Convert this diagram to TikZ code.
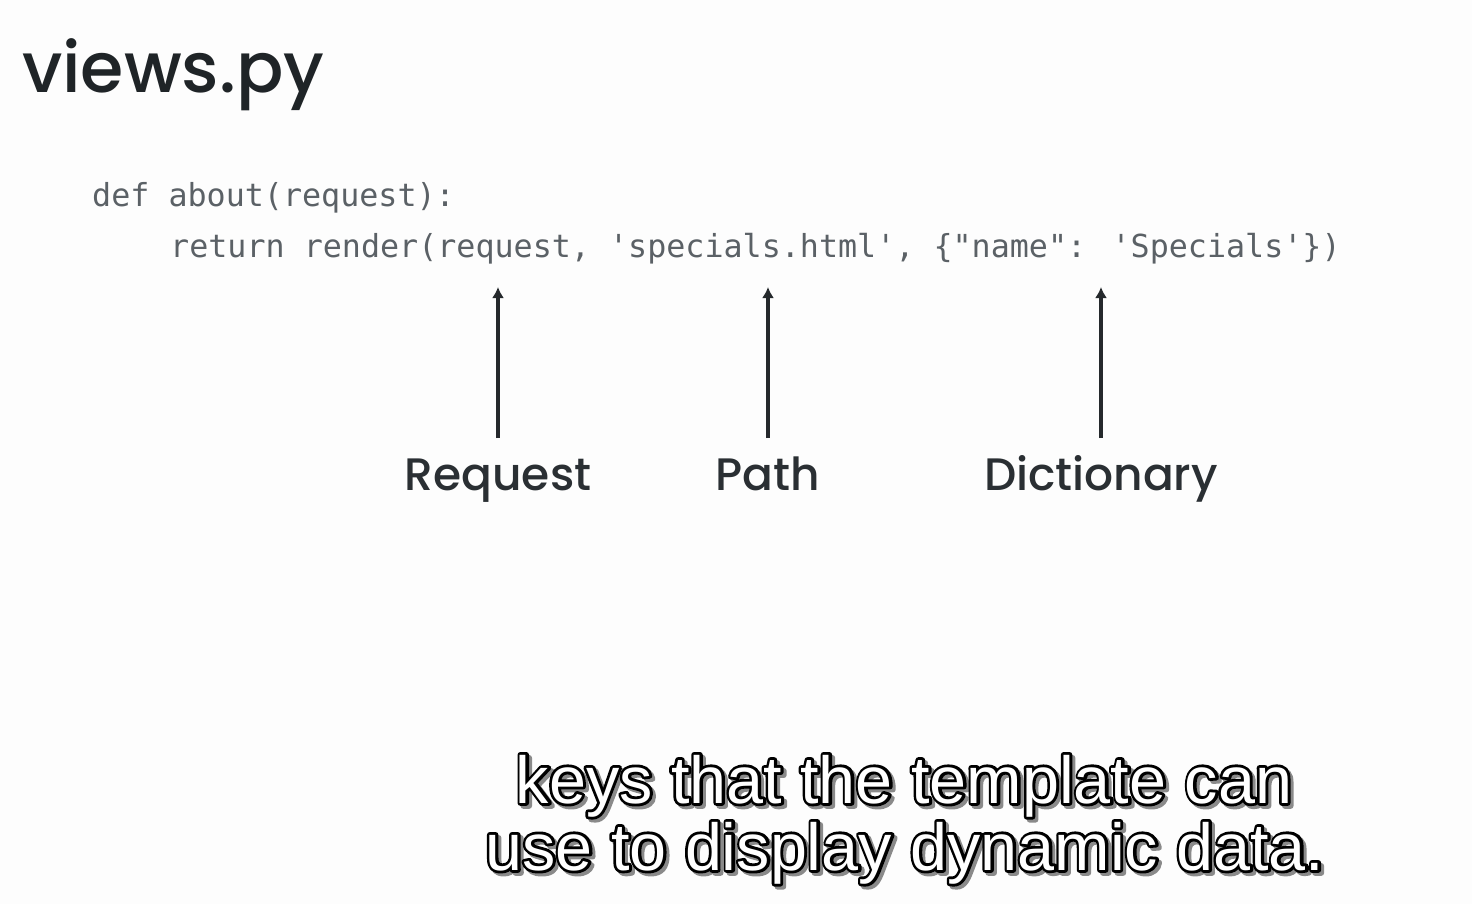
\documentclass[tikz,border=0pt]{standalone}
\usepackage{fontspec}
\usetikzlibrary{arrows.meta}
\newfontfamily\titlefont{Poppins}[UprightFont={* Medium}]
\newfontfamily\codefont{DejaVu Sans Mono}[Ligatures=TeXOff]
\newfontfamily\subfont{Liberation Sans}
\definecolor{bgcol}{HTML}{FDFDFD}
\definecolor{titlecol}{HTML}{1F2427}
\definecolor{codecol}{HTML}{5B6166}
\definecolor{labcol}{HTML}{2A2F33}
\definecolor{arrcol}{HTML}{25292C}
\definecolor{shadowcol}{HTML}{8A8A8A}
% text drawn with a stroked outline: #1 colour, #2 render mode, #3 text
\newcommand{\strk}[3]{{\color{#1}\special{pdf:literal direct 5.6 w 1 j #2 Tr}#3\special{pdf:literal direct 0 Tr}}}
\newcommand{\subline}[1]{\rlap{\hspace{3pt}\raisebox{-3pt}{\strk{shadowcol}{2}{#1}}}\rlap{\strk{black}{1}{#1}}\textcolor{white}{#1}}
\tikzset{
  titlestyle/.style={anchor=base west, inner sep=0pt, text=titlecol, font=\titlefont\fontsize{70}{74}\selectfont},
  codestyle/.style={anchor=base west, inner sep=0pt, text=codecol, font=\codefont\fontsize{31.7}{36}\selectfont},
  labstyle/.style={anchor=base, inner sep=0pt, text=labcol, font=\titlefont\fontsize{45.5}{48}\selectfont},
  arrowstyle/.style={draw=arrcol, line width=3.5pt, -{Latex[length=11pt,width=12pt]}},
  substyle/.style={anchor=base, inner sep=0pt, font=\subfont\fontsize{66.5}{70}\selectfont},
}
\begin{document}
\begin{tikzpicture}[x=1pt,y=-1pt]
\useasboundingbox[fill=bgcol] (0,0) rectangle (1472,904);
\node[titlestyle] (title) at (22,93) {views.py};
\node[codestyle] (code1) at (92,207) {def about(request):};
\node[codestyle] (code2) at (170,257) {return render(request, 'specials.html', \{"name": 'Specials'\})};
\node[labstyle] (lreq) at (498,490) {Request};
\node[labstyle] (lpath) at (768,490) {Path};
\node[labstyle] (ldict) at (1101,490) {Dictionary};
\coordinate (s1) at (498,438); \coordinate (e1) at (498,287);
\coordinate (s2) at (768,438); \coordinate (e2) at (768,287);
\coordinate (s3) at (1101,438); \coordinate (e3) at (1101,287);
\draw[arrowstyle] (s1) -- (e1);
\draw[arrowstyle] (s2) -- (e2);
\draw[arrowstyle] (s3) -- (e3);
\node[substyle] (sub1) at (904,803) {\subline{keys that the template can}};
\node[substyle] (sub2) at (905,870) {\subline{use to display dynamic data.}};
\end{tikzpicture}
\end{document}
